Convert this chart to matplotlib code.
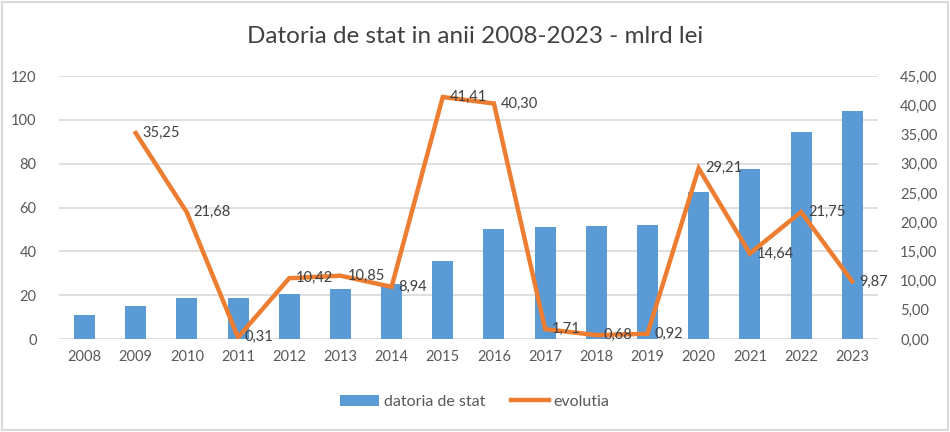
import matplotlib
matplotlib.use("Agg")
import matplotlib.pyplot as plt
from matplotlib.patches import Rectangle, Patch
from matplotlib.lines import Line2D
import numpy as np

plt.rcParams['font.family'] = ['Lato', 'DejaVu Sans']

years = ['2008', '2009', '2010', '2011', '2012', '2013', '2014', '2015',
         '2016', '2017', '2018', '2019', '2020', '2021', '2022', '2023']
datoria = [11.1, 15.2, 18.9, 18.9, 20.7, 23.0, 25.3, 35.8,
           50.4, 51.3, 51.8, 52.2, 67.3, 77.4, 94.3, 103.9]
evolutia = [np.nan, 35.25, 21.68, 0.31, 10.42, 10.85, 8.94, 41.41,
            40.30, 1.71, 0.68, 0.92, 29.21, 14.64, 21.75, 9.87]
left_ticks = [0, 20, 40, 60, 80, 100, 120]
right_ticks = [0, 5, 10, 15, 20, 25, 30, 35, 40, 45]

bar_color = '#5B9BD5'
line_color = '#ED7D31'
text_color = '#595959'
label_color = '#404040'
grid_color = '#D9D9D9'

fig = plt.figure(figsize=(9.5, 4.32), dpi=100)
ax = fig.add_axes([0.062, 0.215, 0.862, 0.609])
x = np.arange(len(years))
ax.bar(x, datoria, width=0.41, color=bar_color, zorder=2)
ax.set_xlim(-0.5, len(years) - 0.5)
ax.set_ylim(0, 120)
ax.set_yticks(left_ticks)
ax.set_xticks(x)
ax.set_xticklabels(years)
ax.grid(axis='y', color=grid_color, linewidth=1.2, zorder=0)
ax.set_axisbelow(True)
for s in ax.spines.values():
    s.set_visible(False)
ax.tick_params(axis='both', length=0, labelsize=10.5, colors=text_color)
ax.tick_params(axis='x', pad=8)
ax.tick_params(axis='y', pad=16)

ax2 = ax.twinx()
ax2.plot(x, evolutia, color=line_color, linewidth=3.2, solid_joinstyle='miter', zorder=3)
ax2.set_ylim(0, 45)
ax2.set_yticks(right_ticks)
ax2.set_yticklabels([f"{v:.2f}".replace('.', ',') for v in right_ticks])
for s in ax2.spines.values():
    s.set_visible(False)
ax2.tick_params(axis='y', length=0, labelsize=10.5, colors=text_color, pad=16)

for xi, v in zip(x, evolutia):
    if np.isnan(v):
        continue
    ax2.annotate(f"{v:.2f}".replace('.', ','), (xi, v), xytext=(5, 0),
                 textcoords='offset points', ha='left', va='center',
                 fontsize=10.5, color=label_color, zorder=4)

fig.text(0.5, 0.915, 'Datoria de stat in anii 2008-2023 - mlrd lei',
         ha='center', va='center', fontsize=17.5, color=label_color)

handles = [Patch(facecolor=bar_color, edgecolor='none'),
           Line2D([0], [0], color=line_color, linewidth=3.2)]
fig.legend(handles, ['datoria de stat', 'evolutia'], loc='center',
           bbox_to_anchor=(0.5, 0.07), ncol=2, frameon=False, fontsize=11.5,
           labelcolor=text_color, handlelength=2.4, handletextpad=0.3,
           columnspacing=1.6)

fig.patches.append(Rectangle((0.002, 0.004), 0.996, 0.992, transform=fig.transFigure,
                             fill=False, edgecolor=grid_color, linewidth=1.5))

fig.savefig('out.png', dpi=100, facecolor='white')
